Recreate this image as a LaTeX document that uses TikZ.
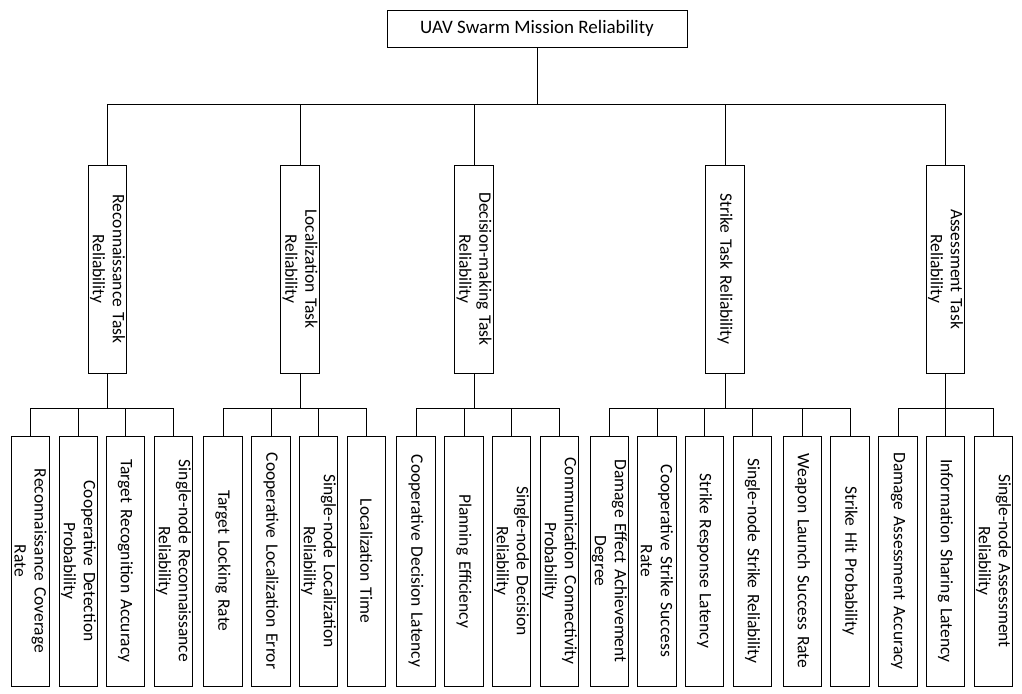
\documentclass[tikz,border=0pt]{standalone}
\usepackage{fontspec}
\setmainfont{Carlito}
\begin{document}
\begin{tikzpicture}[x=1pt,y=-1pt,
  box/.style={draw,line width=0.9pt,inner sep=1pt,font=\fontsize{17.5}{20}\selectfont,align=center},
  mid/.style={box,rotate=-90,minimum width=208pt,minimum height=38.5pt,text width=200pt},
  leaf/.style={box,rotate=-90,minimum width=250pt,minimum height=38.5pt,text width=240pt},
  ln/.style={line width=0.9pt}]
\useasboundingbox (0,0) rectangle (1022,693);
\node[box,font=\fontsize{19}{22}\selectfont,minimum width=300pt,minimum height=37pt] (root) at (537,28.5) {UAV Swarm Mission Reliability};
\coordinate (b1) at (0,104);
\coordinate (b2) at (0,408);
\foreach \n/\x/\t in {r/107.5/{Reconnaissance Task\\Reliability},l/300/{Localization Task\\Reliability},d/474/{Decision-making Task\\Reliability},s/725/{Strike Task Reliability},a/945.5/{Assessment Task\\Reliability}}{
  \node[mid] (\n) at (\x,269) {\t};
  \draw[ln] (root.south) -- (root.south |- b1) -| (\n.west);
}
\foreach \p/\n/\x/\t in {
 r/r1/30.5/{Reconnaissance Coverage\\Rate}, r/r2/78.5/{Cooperative Detection\\Probability}, r/r3/125.5/{Target Recognition Accuracy}, r/r4/173.5/{Single-node Reconnaissance\\Reliability},
 l/l1/223/{Target Locking Rate}, l/l2/271/{Cooperative Localization Error}, l/l3/318.5/{Single-node Localization\\Reliability}, l/l4/366.5/{Localization Time},
 d/d1/416/{Cooperative Decision Latency}, d/d2/464/{Planning Efficiency}, d/d3/511.5/{Single-node Decision\\Reliability}, d/d4/559.5/{Communication Connectivity\\Probability},
 s/s1/609.5/{Damage Effect Achievement\\Degree}, s/s2/657/{Cooperative Strike Success\\Rate}, s/s3/704.5/{Strike Response Latency}, s/s4/752.5/{Single-node Strike Reliability}, s/s5/802.5/{Weapon Launch Success Rate}, s/s6/850/{Strike Hit Probability},
 a/a1/898/{Damage Assessment Accuracy}, a/a2/945.5/{Information Sharing Latency}, a/a3/993.5/{Single-node Assessment\\Reliability}}{
  \node[leaf] (\n) at (\x,561) {\t};
  \draw[ln] (\p.east) -- (\p.east |- b2) -| (\n.west);
}
\end{tikzpicture}
\end{document}
